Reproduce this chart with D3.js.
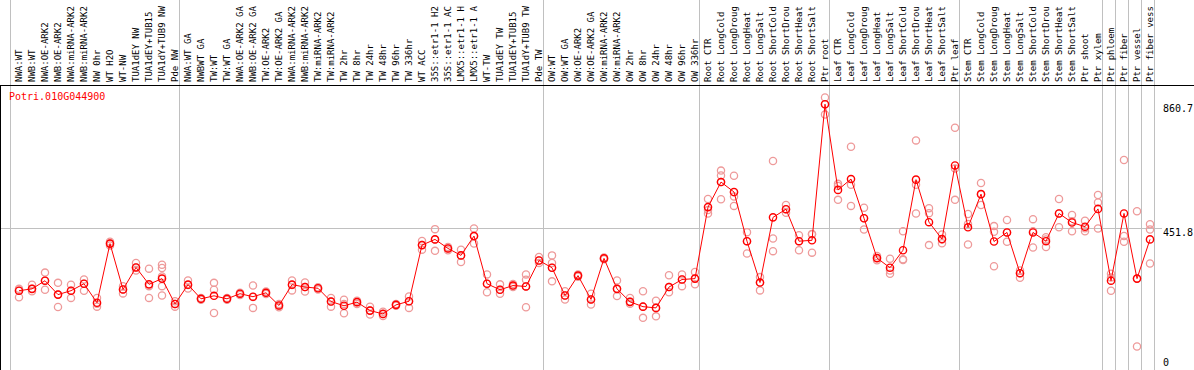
<!DOCTYPE html>
<html lang="en">
<head>
    <meta charset="UTF-8">
    <script src="https://d3js.org/d3.v7.min.js"></script>
    <style>
        body { margin: 0; background: #fff; }
        text { font-family: "DejaVu Sans Mono", monospace; }
    </style>
</head>
<body>
    <div id="here"></div>

    <script>
        const gene = "Potri.010G044900";

        const samples = [
            "NWA:WT", "NWB:WT", "NWA:OE-ARK2", "NWB:OE-ARK2", "NWA:miRNA-ARK2", "NWB:miRNA-ARK2",
            "NW 0hr", "WT H2O", "WT-NW", "TUA1dEY NW", "TUA1dEY+TUB15", "TUA1dY+TUB9 NW", "Pde NW",
            "NWA:WT GA", "NWBWT GA", "TW:WT", "TW:WT GA", "NWA:OE-ARK2 GA", "NWB:OE-ARK2 GA",
            "TW:OE-ARK2", "TW:OE-ARK2 GA", "NWA:miRNA-ARK2 ", "NWB:miRNA-ARK2 ", "TW:miRNA-ARK2",
            "TW:miRNA-ARK2 ", "TW 2hr", "TW 8hr", "TW 24hr", "TW 48hr", "TW 96hr", "TW 336hr",
            "WT ACC", "35S::etr1-1 H2", "35S::etr1-1 AC", "LMX5::etr1-1 H", "LMX5::etr1-1 A",
            "WT-TW", "TUA1dEY TW", "TUA1dEY+TUB15 ", "TUA1dY+TUB9 TW", "Pde TW",
            "OW:WT", "OW:WT GA", "OW:OE-ARK2", "OW:OE-ARK2 GA", "OW:miRNA-ARK2", "OW:miRNA-ARK2 ",
            "OW 2hr", "OW 8hr", "OW 24hr", "OW 48hr", "OW 96hr", "OW 336hr",
            "Root CTR", "Root LongCold", "Root LongDroug", "Root LongHeat", "Root LongSalt",
            "Root ShortCold", "Root ShortDrou", "Root ShortHeat", "Root ShortSalt", "Ptr root",
            "Leaf CTR", "Leaf LongCold", "Leaf LongDroug", "Leaf LongHeat", "Leaf LongSalt",
            "Leaf ShortCold", "Leaf ShortDrou", "Leaf ShortHeat", "Leaf ShortSalt", "Ptr leaf",
            "Stem CTR", "Stem LongCold", "Stem LongDroug", "Stem LongHeat", "Stem LongSalt",
            "Stem ShortCold", "Stem ShortDrou", "Stem ShortHeat", "Stem ShortSalt", "Ptr shoot",
            "Ptr xylem", "Ptr phloem", "Ptr fiber", "Ptr vessel", "Ptr fiber vess"
        ];

        // mean expression per sample
        const means = [
            243, 249, 276, 230, 243, 266, 203, 399, 247, 320, 264, 283, 199,
            263, 216, 226, 216, 233, 223, 236, 194, 263, 255, 251, 207, 193, 205, 177, 166, 196, 208,
            394, 413, 383, 360, 424, 266, 246, 260, 257, 343,
            319, 227, 293, 214, 350, 249, 206, 190, 186, 255, 280, 283,
            520, 603, 570, 407, 270, 486, 513, 407, 410, 861,
            577, 613, 483, 351, 319, 377, 611, 470, 414, 658,
            453, 563, 406, 436, 301, 436, 407, 499, 469, 455,
            514, 276, 499, 283, 413
        ];

        // individual replicates per sample
        const replicates = [
            [249, 243, 221], [263, 249, 241], [303, 276, 246], [269, 230, 189], [263, 243, 219],
            [280, 266, 243], [219, 200, 190], [405, 399, 393], [258, 247, 234], [335, 320, 310],
            [316, 258, 219], [329, 318, 290, 258, 227], [208, 199, 190],
            [277, 262, 250], [219, 216, 213], [269, 246, 169], [219, 216, 213], [236, 232, 229],
            [260, 222, 186], [240, 236, 232], [199, 193, 188], [277, 262, 244], [270, 255, 240],
            [254, 251, 247], [219, 207, 190], [213, 199, 168], [210, 205, 199], [190, 177, 164],
            [173, 166, 159], [199, 196, 193], [224, 208, 186],
            [408, 394, 379], [447, 413, 375], [388, 383, 377], [379, 360, 338], [449, 424, 399],
            [297, 266, 238], [264, 246, 233], [265, 260, 255], [297, 279, 257, 188], [355, 343, 335],
            [360, 335, 319, 274], [241, 227, 214], [297, 293, 289], [233, 214, 197], [353, 350, 347],
            [277, 249, 225], [219, 206, 200], [241, 190, 153], [210, 186, 158], [294, 255, 238],
            [297, 280, 258], [305, 283, 264],
            [547, 510, 499], [641, 625, 603, 546], [624, 569, 555, 524], [437, 407, 366], [288, 270, 244],
            [673, 416, 374], [527, 513, 501], [427, 407, 377], [431, 430, 369], [883, 861, 827],
            [597, 590, 544], [720, 594, 524], [518, 483, 446], [358, 351, 344], [349, 310, 299],
            [440, 347, 345], [741, 594, 499], [516, 500, 394], [429, 413, 400], [783, 648, 544],
            [497, 464, 396], [600, 563, 527], [457, 438, 324], [477, 436, 405], [310, 301, 286],
            [480, 440, 386], [420, 413, 388], [547, 499, 453], [494, 473, 440], [475, 450, 440],
            [560, 535, 449], [299, 287, 243], [676, 424, 405], [506, 283, 58], [463, 446, 333]
        ];

        // index of the first sample of each group (plus the end)
        const groupBreaks = [0, 13, 41, 53, 63, 73, 84, 85, 86, 87, 88];

        const yTicks = [0, 451.8, 860.7];
        const refLine = 451.8;

        const width = 1194, height = 370, headerH = 85;

        const svg = d3.select("#here")
            .append("svg")
                .attr("width", width)
                .attr("height", height);

        const x = d3.scaleBand()
            .domain(samples)
            .range([10, 10 + samples.length * 13])
            .padding(0);

        const y = d3.scaleLinear()
            .domain([0, 860.7])
            .range([364, 104.3]);

        const cx = i => x(samples[i]) + 9;
        const lineX = k => k < samples.length ? x(samples[k]) + 0.5 : x.range()[1] + 0.5;

        // group separators
        svg.selectAll("line.sep")
            .data(groupBreaks)
            .join("line")
                .attr("x1", lineX).attr("x2", lineX)
                .attr("y1", 0).attr("y2", height)
                .attr("stroke", "#c0c0c0");

        // reference line
        svg.append("line")
            .attr("x1", 1).attr("x2", 1162)
            .attr("y1", Math.round(y(refLine)) + 0.5).attr("y2", Math.round(y(refLine)) + 0.5)
            .attr("stroke", "#c0c0c0");

        // header frame
        svg.append("line")
            .attr("x1", 0).attr("x2", width)
            .attr("y1", headerH + 0.5).attr("y2", headerH + 0.5)
            .attr("stroke", "#000");
        svg.append("line")
            .attr("x1", 0.5).attr("x2", 0.5)
            .attr("y1", headerH).attr("y2", height)
            .attr("stroke", "#000");

        // sample labels
        svg.selectAll("text.lab")
            .data(samples)
            .join("text")
                .attr("transform", (d, i) => `translate(${cx(i) + 2.5},82) rotate(-90)`)
                .attr("font-size", "9px")
                .attr("fill", "#000")
                .text(d => d.trim());

        svg.append("text")
            .attr("x", 9).attr("y", 100)
            .attr("font-size", "10px")
            .attr("fill", "#ff0000")
            .text(gene);

        // right-hand value labels
        svg.selectAll("text.tick")
            .data(yTicks)
            .join("text")
                .attr("x", 1163)
                .attr("y", d => Math.min(y(d), 358) + 8)
                .attr("font-size", "10px")
                .attr("fill", "#000")
                .text(d => d);

        // replicates
        const repPts = replicates.flatMap((r, i) => r.map(v => ({ i, v })));
        svg.selectAll("circle.rep")
            .data(repPts)
            .join("circle")
                .attr("cx", d => cx(d.i))
                .attr("cy", d => y(d.v))
                .attr("r", 3.6)
                .attr("fill", "none")
                .attr("stroke", "#ee9a9a")
                .attr("stroke-width", 1.3);

        // mean line
        svg.append("path")
            .datum(means)
            .attr("d", d3.line().x((d, i) => cx(i)).y(d => y(d)))
            .attr("fill", "none")
            .attr("stroke", "#ff0000")
            .attr("stroke-width", 1);

        svg.selectAll("circle.mean")
            .data(means)
            .join("circle")
                .attr("cx", (d, i) => cx(i))
                .attr("cy", d => y(d))
                .attr("r", 3.6)
                .attr("fill", "none")
                .attr("stroke", "#ff0000")
                .attr("stroke-width", 1.4);
    </script>
</body>
</html>
